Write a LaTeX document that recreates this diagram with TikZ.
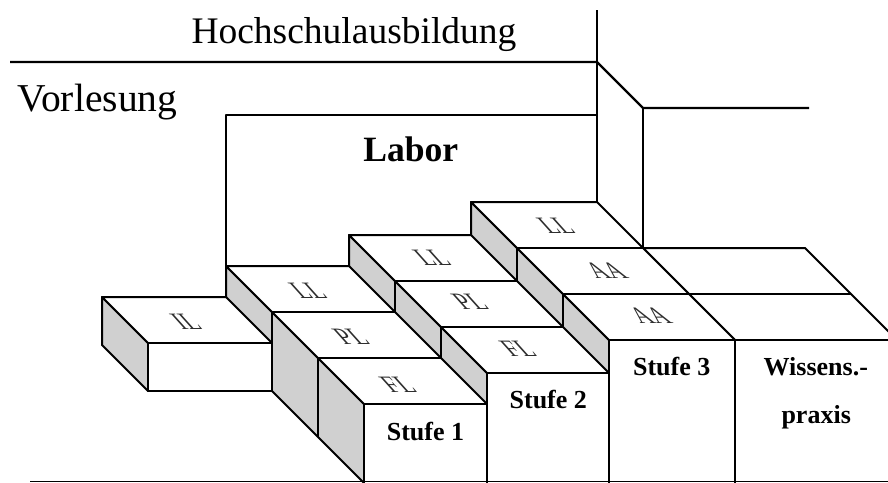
\documentclass[tikz,border=0pt]{standalone}
\usepackage{fontspec}
\setmainfont{Liberation Serif}
\definecolor{sidegray}{RGB}{208,208,208}
\definecolor{labgray}{RGB}{45,45,45}
\newcommand\facelabel[4]{\begin{scope}[shift={(#1,#2)}]\node[facelbl] (#3) at (0,0) {#4};\end{scope}}
\begin{document}
\begin{tikzpicture}[x=1pt,y=-1pt,line join=round,
  wall/.style={line width=2.2pt},
  box/.style={fill=white,draw=black,line width=2pt},
  side/.style={fill=sidegray,draw=black,line width=2pt},
  sep/.style={line width=2pt},
  ground/.style={line width=1.5pt},
  bigtxt/.style={font=\fontsize{37.5}{40}\selectfont,anchor=base,inner sep=0pt},
  labtxt/.style={font=\fontsize{35.6}{40}\selectfont\bfseries,anchor=base,inner sep=0pt},
  steptxt/.style={font=\fontsize{26}{28}\selectfont\bfseries,anchor=base,inner sep=0pt},
  facelbl/.style={font=\fontsize{23.5}{24}\selectfont,text=labgray,xslant=-0.9,transform shape,inner sep=0pt}]
\useasboundingbox (0,0) rectangle (888,482);
% walls
\draw[wall] (597,10) -- (597,202);
\draw[wall] (10,62) -- (597,62) -- (643,108) -- (809,108);
\draw[wall] (643,108) -- (643,248);
\draw[wall] (226,266) -- (226,115) -- (597,115);
% Wissenspraxis column
\filldraw[box] (643,248) -- (805,248) -- (897,340) -- (735,340) -- cycle;
\draw[sep] (689,294) -- (851,294);
\filldraw[box] (735,340) -- (897,340) -- (897,490) -- (735,490) -- cycle;
% Stufe 3 column
\filldraw[side] (471,202) -- (609,340) -- (609,490) -- (471,352) -- cycle;
\draw[sep] (517,248) -- (517,398) (563,294) -- (563,444);
\filldraw[box] (471,202) -- (597,202) -- (735,340) -- (609,340) -- cycle;
\draw[sep] (517,248) -- (643,248) (563,294) -- (689,294);
\filldraw[box] (609,340) -- (735,340) -- (735,490) -- (609,490) -- cycle;
% Stufe 2 column
\filldraw[side] (349,235) -- (487,373) -- (487,490) -- (349,352) -- cycle;
\draw[sep] (395,281) -- (395,398) (441,327) -- (441,444);
\filldraw[box] (349,235) -- (471,235) -- (609,373) -- (487,373) -- cycle;
\draw[sep] (395,281) -- (517,281) (441,327) -- (563,327);
\filldraw[box] (487,373) -- (609,373) -- (609,490) -- (487,490) -- cycle;
% Stufe 1 column
\filldraw[side] (226,266) -- (364,404) -- (364,483) -- (226,345) -- cycle;
\draw[sep] (272,312) -- (272,391) (318,358) -- (318,437);
\filldraw[box] (226,266) -- (349,266) -- (487,404) -- (364,404) -- cycle;
\draw[sep] (272,312) -- (395,312) (318,358) -- (441,358);
\filldraw[box] (364,404) -- (487,404) -- (487,490) -- (364,490) -- cycle;
% IL box
\filldraw[side] (102,297) -- (148,343) -- (148,391) -- (102,345) -- cycle;
\filldraw[box] (102,297) -- (226,297) -- (272,343) -- (148,343) -- cycle;
\filldraw[box] (148,343) -- (272,343) -- (272,391) -- (148,391) -- cycle;
% ground
\draw[ground] (30,481.5) -- (888,481.5);
% texts
\node[bigtxt] (hs) at (354,43.3) {Hochschulausbildung};
\node[bigtxt,font=\fontsize{39.5}{42}\selectfont] (vl) at (97.5,111.7) {Vorlesung};
\node[labtxt] (lab) at (410.8,161) {Labor};
\node[steptxt] (s1) at (425.5,440) {Stufe 1};
\node[steptxt] (s2) at (548.3,408.3) {Stufe 2};
\node[steptxt] (s3) at (671.7,375.7) {Stufe 3};
\node[steptxt] (wp1) at (815.8,375) {Wissens.-};
\node[steptxt] (wp2) at (816.2,423) {praxis};
% face labels
\facelabel{186}{322}{il}{IL}
\facelabel{308}{291}{ll1}{LL}
\facelabel{351}{337}{pl1}{PL}
\facelabel{398}{385}{fl1}{FL}
\facelabel{432}{258}{ll2}{LL}
\facelabel{470}{302}{pl2}{PL}
\facelabel{518}{349}{fl2}{FL}
\facelabel{556}{226}{ll3}{LL}
\facelabel{606}{271}{aa1}{AA}
\facelabel{650}{316}{aa0}{AA}
\end{tikzpicture}
\end{document}
